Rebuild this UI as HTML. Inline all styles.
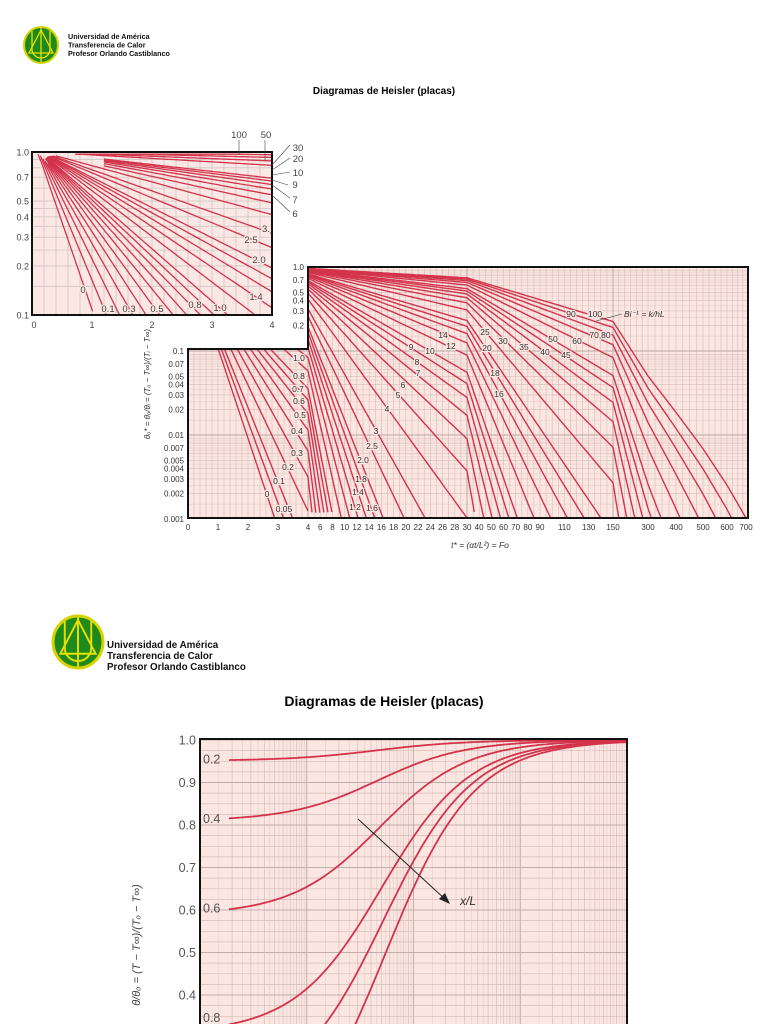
<!DOCTYPE html>
<html><head><meta charset="utf-8">
<style>
html,body{margin:0;padding:0;background:#fff;width:768px;height:1024px;overflow:hidden;}
svg{display:block;}
text{font-family:"Liberation Sans",sans-serif;}
</style></head>
<body>
<svg id="s" width="768" height="1024" viewBox="0 0 768 1024" xmlns="http://www.w3.org/2000/svg" style="overflow:hidden"></svg>
<script>
const S=document.getElementById('s');
let h='';
const RED='#d3334b';
function zeta(Bi){ if(!isFinite(Bi)) return Math.PI/2; let lo=1e-9,hi=Math.PI/2-1e-9;
 for(let i=0;i<80;i++){const m=(lo+hi)/2; if(m*Math.tan(m)>Bi) hi=m; else lo=m;} return (lo+hi)/2;}
function C1(z){return 4*Math.sin(z)/(2*z+Math.sin(2*z));}
function th(b,F){const z=zeta(b===0?Infinity:1/b);return C1(z)*Math.exp(-z*z*F);}
function L10(v){return Math.log(v)/Math.LN10;}
function txt(x,y,s,size,anchor,extra){return `<text x="${x}" y="${y}" font-size="${size}" text-anchor="${anchor||'start'}" ${extra||''}>${s}</text>`;}

function logo(cx,cy,rx,ry){
 let s=`<ellipse cx="${cx}" cy="${cy}" rx="${rx}" ry="${ry}" fill="#1f8a1c" stroke="#d8d200" stroke-width="${rx*0.12}"/>`;
 const k=rx/17;
 s+=`<g stroke="#e8e000" stroke-width="${1.3*k}" fill="none">
 <path d="M${cx-9*k} ${cy-14*k} V${cy+4*k} A${9*k} ${9*k} 0 0 0 ${cx+9*k} ${cy+4*k} V${cy-14*k}"/>
 <path d="M${cx} ${cy-15*k} L${cx-12*k} ${cy+8*k} H${cx+12*k} Z"/>
 <line x1="${cx}" y1="${cy-17*k}" x2="${cx}" y2="${cy+17*k}"/></g>`;
 return s;
}
h+=logo(41,45,17,18);
h+=`<g font-weight="bold" font-size="7.2" fill="#111">`+txt(68,39,'Universidad de América',7.2)+txt(68,47.5,'Transferencia de Calor',7.2)+txt(68,56,'Profesor Orlando Castiblanco',7.2)+`</g>`;
h+=txt(384,94,'Diagramas de Heisler (placas)',10,'middle','font-weight="bold"');
h+=logo(78,642,25,26);
h+=`<g font-weight="bold" fill="#111">`+txt(107,648,'Universidad de América',9.8)+txt(107,659,'Transferencia de Calor',9.8)+txt(107,670,'Profesor Orlando Castiblanco',9.8)+`</g>`;
h+=txt(384,706,'Diagramas de Heisler (placas)',14,'middle','font-weight="bold"');

const kn=[[0,188],[4,308],[30,467],[150,613],[300,648],[400,676],[500,703],[600,727],[700,748]];
function xb(F){for(let i=1;i<kn.length;i++){if(F<=kn[i][0]){const a=kn[i-1],b=kn[i];return a[1]+(F-a[0])*(b[1]-a[1])/(b[0]-a[0]);}}return 748;}
function yb(v){return 267-84*L10(v);}
h+=`<defs><clipPath id="cb"><path d="M308 267H748V518H188V349H308Z"/></clipPath>
<clipPath id="ci"><rect x="32" y="152" width="240" height="163"/></clipPath>
<clipPath id="cc"><rect x="200" y="738" width="427" height="286"/></clipPath></defs>`;
h+=`<path d="M308 267H748V518H188V349H308Z" fill="#fbe6e2"/>`;
let g='';
function vstep(a,b,st){for(let F=a;F<=b+1e-9;F+=st)g+=`<line x1="${xb(F).toFixed(1)}" y1="267" x2="${xb(F).toFixed(1)}" y2="518"/>`;}
vstep(0,4,0.2);vstep(4,30,1);vstep(30,150,5);vstep(150,700,25);
for(let e=-3;e<0;e++)for(let m=1;m<10;m++){const y=yb(m*Math.pow(10,e));g+=`<line x1="188" y1="${y.toFixed(1)}" x2="748" y2="${y.toFixed(1)}"/>`;
 if(m<9){const y2=yb((m+0.5)*Math.pow(10,e));g+=`<line x1="188" y1="${y2.toFixed(1)}" x2="748" y2="${y2.toFixed(1)}" stroke-opacity="0.5"/>`;}}
h+=`<g clip-path="url(#cb)" stroke="#d9bcb8" stroke-width="0.6">${g}</g>`;
let mg='';
[4,30,150].forEach(F=>mg+=`<line x1="${xb(F)}" y1="267" x2="${xb(F)}" y2="518"/>`);
[0.01,0.1].forEach(v=>mg+=`<line x1="188" y1="${yb(v)}" x2="748" y2="${yb(v)}"/>`);
h+=`<g clip-path="url(#cb)" stroke="#b8a8a6" stroke-width="0.9">${mg}</g>`;
const bigB=[0,0.05,0.1,0.2,0.3,0.4,0.5,0.6,0.7,0.8,1.0,1.2,1.4,1.6,1.8,2.0,2.5,3,4,5,6,7,8,9,10,12,14,16,18,20,25,30,35,40,45,50,60,70,80,90,100];
let lines='';
bigB.forEach(b=>{let pts=[];
 const Fs=[];for(let i=0;i<=kn.length-2;i++){const a=kn[i][0],c=kn[i+1][0];for(let j=0;j<40;j++)Fs.push(a+(c-a)*j/40);}Fs.push(700);
 Fs.forEach(F=>{let v=Math.min(th(b,F),1.0);if(v<0.0007)return;pts.push(xb(F).toFixed(1)+','+yb(v).toFixed(1));});
 if(pts.length>1)lines+=`<polyline points="${pts.join(' ')}"/>`;});
h+=`<g clip-path="url(#cb)" fill="none" stroke="${RED}" stroke-width="1.4">${lines}</g>`;
h+=`<path d="M308 267H748V518H188V349H308Z" fill="none" stroke="#111" stroke-width="2"/>`;
let al='<g font-size="8" fill="#333">';
[[1,'1.0'],[0.7,'0.7'],[0.5,'0.5'],[0.4,'0.4'],[0.3,'0.3'],[0.2,'0.2']].forEach(([v,s])=>al+=txt(304,yb(v)+3,s,8,'end'));
[[0.1,'0.1'],[0.07,'0.07'],[0.05,'0.05'],[0.04,'0.04'],[0.03,'0.03'],[0.02,'0.02'],[0.01,'0.01'],[0.007,'0.007'],[0.005,'0.005'],[0.004,'0.004'],[0.003,'0.003'],[0.002,'0.002'],[0.001,'0.001']].forEach(([v,s])=>al+=txt(184,yb(v)+3,s,8,'end'));
[0,1,2,3,4,6,8,10,12,14,16,18,20,22,24,26,28,30,40,50,60,70,80,90,110,130,150,300,400,500,600,700].forEach(F=>al+=txt(xb(F)+(F===700?-2:0),530,F,8,'middle',F>=10&&F<=90?'textLength="9" lengthAdjust="spacingAndGlyphs"':''));
al+='</g>';
h+=al;
h+=`<text x="480" y="548" font-size="8.5" text-anchor="middle" font-family="Liberation Serif,serif" font-style="italic" fill="#333">t* = (αt/L²) = Fo</text>`;
h+=`<text transform="translate(150,384) rotate(-90)" font-size="8" text-anchor="middle" font-family="Liberation Serif,serif" font-style="italic" fill="#333">θₒ* = θₒ/θᵢ = (Tₒ − T∞)/(Tᵢ − T∞)</text>`;
const bl=[['14',443,335],['12',451,346],['25',485,332],['30',503,341],['20',487,348],['35',524,347],['40',545,352],['45',566,355],['50',553,339],['60',577,341],['70,80',600,335],['90',571,314],['100',595,314],['9',411,347],['10',430,351],['8',417,362],['7',418,373],['6',403,385],['5',398,395],['4',387,409],['18',495,373],['16',499,394],['3',376,431],['2.5',372,446],['2.0',363,460],['1.8',361,479],['1.4',358,492],['1.2',355,507],['1.6',372,508],['1.0',299,358],['0.8',299,376],['0.7',298,389],['0.6',299,401],['0.5',300,415],['0.4',297,431],['0.3',297,453],['0.2',288,467],['0.1',279,481],['0',267,494],['0.05',284,509]];
let lb='<g font-size="8.5" fill="#333" stroke="#fbe6e2" stroke-width="2.5" paint-order="stroke">';
bl.forEach(([s,x,y])=>lb+=txt(x,y+3,s,8.5,'middle'));
lb+=`<text x="624" y="317" font-size="8.5" font-family="Liberation Serif,serif" font-style="italic">Bi⁻¹ = k/hL</text></g>`;
lb+=`<line x1="622" y1="314" x2="596" y2="321" stroke="#333" stroke-width="0.6"/>`;
h+=lb;

function xi(F){return 32+60*F;} function yi(v){return 152-163*L10(v);}
h+=`<rect x="32" y="152" width="240" height="163" fill="#fbe8e4"/>`;
let gi='';
for(let F=0;F<=4.001;F+=0.2)gi+=`<line x1="${xi(F)}" y1="152" x2="${xi(F)}" y2="315"/>`;
for(let m=1;m<=10;m++){const y=yi(m/10);gi+=`<line x1="32" y1="${y}" x2="272" y2="${y}"/>`;}
[0.15,0.25,0.35,0.45].forEach(v=>gi+=`<line x1="32" y1="${yi(v)}" x2="272" y2="${yi(v)}"/>`);
h+=`<g stroke="#cfc6c4" stroke-width="0.8">${gi}</g>`;
const inB=[0,0.1,0.2,0.3,0.4,0.5,0.6,0.7,0.8,0.9,1.0,1.2,1.4,1.6,1.8,2.0,2.5,3,4,5,6,7,8,9,10,20,30,50,100];
let li='';
inB.forEach(b=>{let pts=[];const F0=b<0.5?0.1+b*0.4:(b<5?0.2+0.05*b:(b<20?1.2:0.6+b*0.006));
 for(let j=0;j<=60;j++){const F=F0+(4-F0)*j/60;let v=Math.min(th(b,F),0.97);if(v<0.09)break;pts.push(xi(F).toFixed(1)+','+yi(v).toFixed(1));}
 if(pts.length>1)li+=`<polyline points="${pts.join(' ')}"/>`;});
h+=`<g clip-path="url(#ci)" fill="none" stroke="${RED}" stroke-width="1.3">${li}</g>`;
h+=`<rect x="32" y="152" width="240" height="163" fill="none" stroke="#111" stroke-width="2"/>`;
let il='<g font-size="9" fill="#444">';
[[1,'1.0'],[0.7,'0.7'],[0.5,'0.5'],[0.4,'0.4'],[0.3,'0.3'],[0.2,'0.2'],[0.1,'0.1']].forEach(([v,s])=>il+=txt(29,yi(v)+3.5,s,9,'end'));
[0,1,2,3,4].forEach(F=>il+=txt(xi(F)+(F===0?2:0),328,F,9,'middle'));
const ilb=[['100',239,135],['50',266,135],['30',298,148],['20',298,159],['10',298,173],['9',295,185],['7',295,200],['6',295,214]];
ilb.forEach(([s,x,y])=>il+=txt(x,y+3,s,9.5,'middle'));
il+='</g>';
il+=`<g stroke="#444" stroke-width="0.6"><line x1="239" y1="140" x2="239" y2="155"/><line x1="265" y1="140" x2="265" y2="160"/><line x1="290" y1="145" x2="272" y2="165"/><line x1="290" y1="158" x2="272" y2="170"/><line x1="290" y1="172" x2="272" y2="175"/><line x1="288" y1="185" x2="272" y2="180"/><line x1="290" y1="198" x2="272" y2="185"/><line x1="290" y1="212" x2="272" y2="195"/></g>`;
let ill='<g font-size="9.5" fill="#444" stroke="#fbe8e4" stroke-width="2.5" paint-order="stroke">';
[['3.',266,229],['2.5',251,240],['2.0',259,260],['1.4',256,297],['0',83,290],['0.1',108,309],['0.3',129,309],['0.5',157,309],['0.8',195,305],['1.0',220,308]].forEach(([s,x,y])=>ill+=txt(x,y+3,s,9.5,'middle'));
ill+='</g>';
h+=il+ill;

function xc(b){return 200+(L10(b)+2)*106.75;} function yc(v){return 740+(1-v)*425;}
h+=`<rect x="200" y="738" width="427" height="286" fill="#fbe6e2"/>`;
let gc='';
for(let e=-2;e<2;e++)for(let m=1;m<10;m++){const x=xc(m*Math.pow(10,e));gc+=`<line x1="${x.toFixed(1)}" y1="738" x2="${x.toFixed(1)}" y2="1024"/>`;
 const x2=xc((m+0.5)*Math.pow(10,e));gc+=`<line x1="${x2.toFixed(1)}" y1="738" x2="${x2.toFixed(1)}" y2="1024" stroke-opacity="0.5"/>`;}
for(let v=1;v>=0.3;v-=0.025){gc+=`<line x1="200" y1="${yc(v).toFixed(1)}" x2="627" y2="${yc(v).toFixed(1)}"/>`;}
h+=`<g clip-path="url(#cc)" stroke="#d8bdb9" stroke-width="0.7">${gc}</g>`;
let gm='';
for(let v=1;v>=0.3;v-=0.1)gm+=`<line x1="200" y1="${yc(v).toFixed(1)}" x2="627" y2="${yc(v).toFixed(1)}"/>`;
for(let e=-1;e<2;e++)gm+=`<line x1="${xc(Math.pow(10,e))}" y1="738" x2="${xc(Math.pow(10,e))}" y2="1024"/>`;
h+=`<g clip-path="url(#cc)" stroke="#c0aeac" stroke-width="0.9">${gm}</g>`;
let lc='';
[0.2,0.4,0.6,0.8,0.9,1.0].forEach(p=>{let pts=[];for(let j=0;j<=200;j++){const lb=L10(0.0187)+(2-L10(0.0187))*j/200;const b=Math.pow(10,lb);const z=zeta(1/b);const v=Math.cos(z*p);const y=yc(v);if(y>1030)continue;pts.push(xc(b).toFixed(1)+','+y.toFixed(1));}
 if(pts.length>1)lc+=`<polyline points="${pts.join(' ')}"/>`;});
h+=`<g clip-path="url(#cc)" fill="none" stroke="${RED}" stroke-width="1.8">${lc}</g>`;
h+=`<path d="M200 1024V739H627V1024" fill="none" stroke="#111" stroke-width="2"/>`;
let bl2='<g font-size="12.5" fill="#555">';
[1,0.9,0.8,0.7,0.6,0.5,0.4].forEach(v=>bl2+=txt(196,yc(v)+4.5,v.toFixed(1),12.5,'end'));
[[0.2,0.955],[0.4,0.815],[0.6,0.605]].forEach(([p,v])=>bl2+=txt(203,yc(v)+4.5,p.toFixed(1),12.5));
bl2+=txt(203,1022,'0.8',12.5);
bl2+='</g>';
h+=bl2;
h+=`<line x1="358" y1="819" x2="446" y2="900" stroke="#222" stroke-width="1"/><path d="M450 904 L439 899 L445 893 Z" fill="#222"/>`;
h+=`<text x="460" y="905" font-size="12" font-family="Liberation Serif,serif" font-style="italic" fill="#333">x/L</text>`;
h+=`<text transform="translate(140,945) rotate(-90)" font-size="11" text-anchor="middle" font-family="Liberation Serif,serif" font-style="italic" fill="#444">θ/θₒ = (T − T∞)/(Tₒ − T∞)</text>`;
S.innerHTML=h;
</script>
</body></html>
